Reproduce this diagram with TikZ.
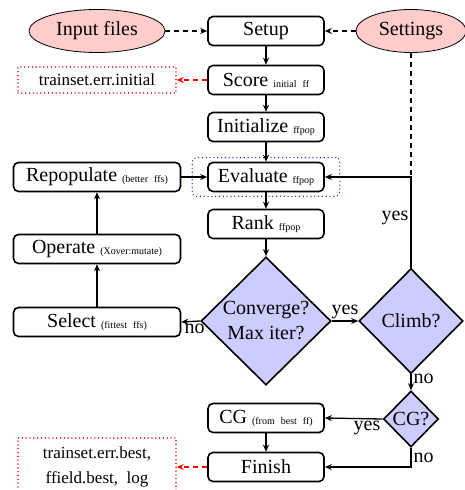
\documentclass[tikz,border=0pt]{standalone}
\usepackage{fontspec}
\setmainfont{Liberation Serif}
\usetikzlibrary{shapes.geometric,arrows.meta,fit}

\definecolor{filefill}{HTML}{FFCCCC}
\definecolor{testfill}{HTML}{CCCCFF}

% small annotation set after a step name
\newcommand{\stepnote}[1]{\hspace{5pt}\raisebox{-1pt}{\fontsize{10}{12}\selectfont #1}}

\tikzset{
  big/.style={font=\fontsize{20}{25}\selectfont},
  stepbox/.style={draw, line width=1.6pt, rounded corners=5pt, minimum width=116pt,
    minimum height=29pt, inner sep=0pt, big},
  widebox/.style={stepbox, minimum width=167pt},
  filenode/.style={ellipse, draw, line width=0.8pt, fill=filefill, minimum width=136pt,
    minimum height=43pt, inner sep=0pt, big},
  decision/.style={diamond, draw, line width=1.6pt, fill=testfill, inner sep=0pt,
    align=center, big},
  outfile/.style={draw=red, line width=1.3pt, dash pattern=on 0.01pt off 3.8pt,
    line cap=round, inner sep=0pt, align=center, font=\fontsize{17}{25}\selectfont},
  flow/.style={-{Stealth[length=7pt,width=6pt]}, line width=1.3pt},
  feed/.style={flow, dash pattern=on 5pt off 4pt},
  emit/.style={feed, red},
  lbl/.style={big, inner sep=2pt},
}

\begin{document}
\begin{tikzpicture}[x=1pt, y=-1pt]
  \useasboundingbox (0,0) rectangle (464,490);

  % inputs
  \node[filenode] (input) at (97,31) {Input files};
  \node[filenode, minimum width=110pt] (settings) at (411,31) {Settings};

  % main column
  \node[stepbox] (setup) at (266,31) {Setup};
  \node[stepbox] (score) at (266,80) {Score\stepnote{initial\hspace{6pt}ff}};
  \node[stepbox] (init) at (266,127) {Initialize\stepnote{ffpop}};
  \node[stepbox] (eval) at (266,177) {Evaluate\stepnote{ffpop}};
  \node[stepbox] (rank) at (266,224) {Rank\stepnote{ffpop}};
  \node[decision, minimum width=130pt, minimum height=128pt] (converge) at (266,321)
    {Converge?\\Max iter?};
  \node[stepbox] (cg) at (266,418) {CG\stepnote{(from\hspace{6pt}best\hspace{6pt}ff)}};
  \node[stepbox] (finish) at (266,467) {Finish};

  % genetic loop
  \node[widebox] (repop) at (97,177) {Repopulate\stepnote{(better\hspace{6pt}ffs)}};
  \node[widebox] (operate) at (97,249) {Operate\stepnote{(Xover:mutate)}};
  \node[widebox] (select) at (97,322) {Select\stepnote{(fittest\hspace{6pt}ffs)}};

  % right column tests
  \node[decision, minimum width=104pt, minimum height=105pt] (climb) at (411,321) {Climb?};
  \node[decision, minimum width=55pt, minimum height=56pt] (cgq) at (411,419) {CG?};

  % output files
  \node[outfile, minimum width=158pt, minimum height=26pt] (errinit) at (97,80)
    {trainset.err.initial};
  \node[outfile, minimum width=158pt, minimum height=58pt] (outfinal) at (97,467)
    {trainset.err.best,\\ffield.best,\ \ log};

  % group around the evaluation step
  \node[fit=(eval), draw=blue, line width=1.3pt, dash pattern=on 0.01pt off 3.8pt,
    line cap=round, rounded corners=4pt, inner xsep=15pt, inner ysep=4pt] (evalgroup) {};

  \coordinate (junc) at (settings.south |- eval.east);

  % connectors
  \draw[feed] (input) -- (setup);
  \draw[feed] (settings) -- (setup);
  \draw[line width=1.3pt, dash pattern=on 5pt off 4pt] (settings.south) -- (junc);
  \draw[flow] (setup) -- (score);
  \draw[emit] (score) -- (errinit);
  \draw[flow] (score) -- (init);
  \draw[flow] (init) -- (eval);
  \draw[flow] (eval) -- (rank);
  \draw[flow] (rank) -- (converge);
  \draw[flow] (converge.west) -- node[lbl, below, pos=0.3] {no} (select.east);
  \draw[flow] (select) -- (operate);
  \draw[flow] (operate) -- (repop);
  \draw[flow] (repop) -- (eval);
  \draw[flow] (converge.east) -- node[lbl, above] {yes} (climb.west);
  \draw[flow] (climb.north) -- node[lbl, left, pos=0.55] {yes} (junc) -- (eval.east);
  \draw[flow] (climb.south) -- node[lbl, right, pos=0.3] {no} (cgq.north);
  \draw[flow] (cgq.west) -- node[lbl, below, pos=0.27] {yes} (cg.east);
  \draw[flow] (cgq.south) |- node[lbl, right, pos=0.25] {no} (finish.east);
  \draw[flow] (cg) -- (finish);
  \draw[emit] (finish) -- (outfinal);
\end{tikzpicture}
\end{document}
